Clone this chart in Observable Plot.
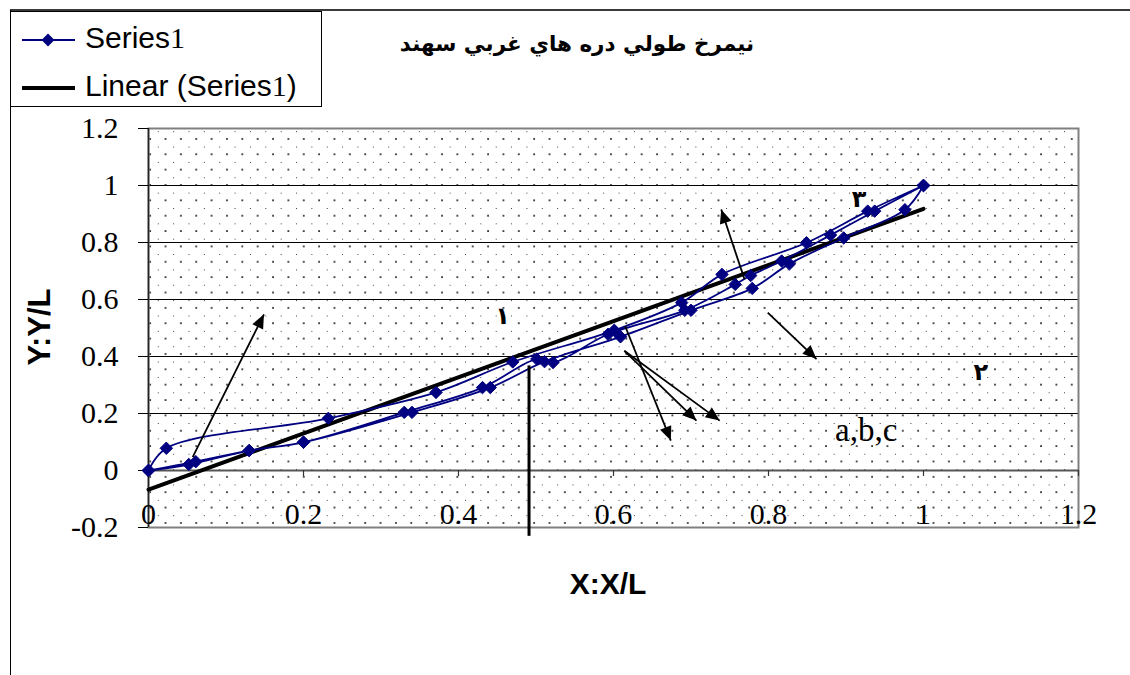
<!DOCTYPE html>
<html>
<head>
<meta charset="utf-8">
<script src="https://cdn.jsdelivr.net/npm/d3@7"></script>
<script src="https://cdn.jsdelivr.net/npm/@observablehq/plot@0.6"></script>
<style>
  html, body { margin: 0; padding: 0; background: #fff; width: 1130px; height: 675px; overflow: hidden; }
  #wrap { position: relative; width: 1130px; height: 675px; }
  #chart { position: absolute; left: 0; top: 0; }
  .btop { position: absolute; left: 10px; top: 9px; width: 1120px; height: 0; border-top: 2px solid #3a3a3a; }
  .bleft { position: absolute; left: 10px; top: 10px; width: 0; height: 665px; border-left: 1px solid #000; }
  #legend { position: absolute; left: 10px; top: 11px; }
  .title { position: absolute; left: 577px; top: 43px; transform: translate(-50%, -50%); white-space: nowrap;
           font-family: "DejaVu Sans", sans-serif; font-weight: bold; font-size: 21.5px; direction: rtl; color: #000; }
  .xlab { position: absolute; left: 608px; top: 584px; transform: translate(-50%, -50%); white-space: nowrap;
          font-family: "Liberation Sans", Arial, sans-serif; font-weight: bold; font-size: 30px; }
  .ylab { position: absolute; left: 40px; top: 327px; transform: translate(-50%, -50%) rotate(-90deg); white-space: nowrap;
          font-family: "Liberation Sans", Arial, sans-serif; font-weight: bold; font-size: 31px; }
</style>
</head>
<body>
<div id="wrap">
  <div id="chart"></div>
  <div class="btop"></div>
  <div class="bleft"></div>
  <svg id="legend" width="313" height="97" xmlns="http://www.w3.org/2000/svg">
    <rect x="0.5" y="0.5" width="311" height="95" fill="#fff" stroke="#000" stroke-width="1"/>
    <line x1="12" y1="29" x2="65" y2="29" stroke="#000080" stroke-width="1.8"/>
    <path d="M38,22.5 L44.5,29 L38,35.5 L31.5,29 Z" fill="#000080"/>
    <text x="75" y="37" font-family="Liberation Sans, Arial, sans-serif" font-size="30">Series<tspan font-family="Liberation Serif, Times New Roman, serif">1</tspan></text>
    <line x1="12" y1="77" x2="65" y2="77" stroke="#000" stroke-width="4"/>
    <text x="75" y="85" font-family="Liberation Sans, Arial, sans-serif" font-size="30">Linear (Series<tspan font-family="Liberation Serif, Times New Roman, serif">1</tspan>)</text>
  </svg>
  <div class="title">نيمرخ طولي دره هاي غربي سهند</div>
  <div class="xlab">X:X/L</div>
  <div class="ylab">Y:Y/L</div>
</div>
<script>
// ---- tick labels ----
const xTicks = [0, 0.2, 0.4, 0.6, 0.8, 1, 1.2];
const yTicks = [-0.2, 0, 0.2, 0.4, 0.6, 0.8, 1, 1.2];
const gridY = [0.2, 0.4, 0.6, 0.8, 1];

// ---- Series1: three longitudinal profiles (a, b, c) ----
const profileAX = [0, 0.023, 0.232, 0.371, 0.47, 0.601, 0.688, 0.74, 0.849, 0.928, 1];
const profileAY = [0, 0.078, 0.183, 0.274, 0.381, 0.492, 0.589, 0.688, 0.799, 0.91, 1];
const profileBX = [0, 0.052, 0.13, 0.2, 0.33, 0.431, 0.501, 0.522, 0.593, 0.692, 0.757, 0.777, 0.817, 0.88, 0.937, 1];
const profileBY = [0, 0.021, 0.07, 0.099, 0.204, 0.291, 0.391, 0.379, 0.478, 0.562, 0.653, 0.684, 0.735, 0.826, 0.91, 1];
const profileCX = [0, 0.061, 0.13, 0.2, 0.34, 0.441, 0.511, 0.609, 0.70, 0.779, 0.827, 0.897, 0.976, 1];
const profileCY = [0, 0.031, 0.07, 0.099, 0.204, 0.291, 0.382, 0.469, 0.562, 0.639, 0.725, 0.816, 0.915, 1];

// ---- Linear (Series1) trendline endpoints ----
const trendX = [0, 1];
const trendY = [-0.067, 0.918];

// ---- annotation arrows ----
const arrowX1 = [0.057, 0.769, 0.799, 0.615, 0.614, 0.614];
const arrowY1 = [0.047, 0.671, 0.554, 0.507, 0.42, 0.42];
const arrowX2 = [0.149, 0.739, 0.862, 0.674, 0.707, 0.737];
const arrowY2 = [0.548, 0.916, 0.391, 0.105, 0.175, 0.175];

// ---- vertical marker line ----
const vlineX = [0.491];
const vlineY1 = [0.367];
const vlineY2 = [-0.231];

// ---- annotation labels ----
const noteText = ["۱", "۳", "۲"];
const noteX = [0.457, 0.917, 1.074];
const noteY = [0.542, 0.952, 0.343];
const abcText = ["a,b,c"];
const abcX = [0.926];
const abcY = [0.14];

// build tables
const seriesX = [...profileAX, ...profileBX.slice().reverse(), ...profileCX];
const seriesY = [...profileAY, ...profileBY.slice().reverse(), ...profileCY];
const series = seriesX.map((x, i) => ({x, y: seriesY[i]}));
const trend = trendX.map((x, i) => ({x, y: trendY[i]}));
const arrows = arrowX1.map((x1, i) => ({x1, y1: arrowY1[i], x2: arrowX2[i], y2: arrowY2[i]}));
const vline = vlineX.map((x, i) => ({x, y1: vlineY1[i], y2: vlineY2[i]}));
const notes = noteText.map((t, i) => ({t, x: noteX[i], y: noteY[i]}));
const abc = abcText.map((t, i) => ({t, x: abcX[i], y: abcY[i]}));

const serif = "'Liberation Serif', 'Times New Roman', serif";

const svg = Plot.plot({
  width: 1130,
  height: 675,
  marginLeft: 148,
  marginRight: 52,
  marginTop: 128,
  marginBottom: 148,
  x: {domain: [0, 1.2], axis: null},
  y: {domain: [-0.2, 1.2]},
  style: {fontFamily: serif, fontSize: "30px", background: "transparent", overflow: "visible"},
  marks: [
    Plot.frame({fill: "url(#dots)", stroke: "none"}),
    Plot.ruleY(gridY, {stroke: "#000", strokeWidth: 1}),
    Plot.frame({stroke: "#808080", strokeWidth: 2}),
    Plot.ruleY([0], {stroke: "#555", strokeWidth: 2}),
    Plot.ruleX([0], {stroke: "#222", strokeWidth: 1.5}),
    Plot.axisY({ticks: yTicks, tickSize: 10, tickPadding: 20, tickFormat: d => String(d), label: null, fontSize: 30, fontFamily: serif}),
    Plot.ruleX(xTicks.slice(1), {x: d => d, y1: 0, y2: 0, insetBottom: -6, stroke: "#333", strokeWidth: 1.2}),
    Plot.text(xTicks, {x: d => d, y: -0.2, dy: -13, text: d => String(d), fontSize: 30, fontFamily: serif, ariaLabel: "xlabels"}),
    Plot.line(trend, {x: "x", y: "y", stroke: "#000", strokeWidth: 4}),
    Plot.line(series, {x: "x", y: "y", stroke: "#000080", strokeWidth: 1.8, curve: "catmull-rom"}),
    Plot.dot(series, {x: "x", y: "y", symbol: "diamond2", r: 5.6, fill: "#000080", stroke: "#000080", strokeWidth: 1}),
    Plot.ruleX(vline, {x: "x", y1: "y1", y2: "y2", stroke: "#000", strokeWidth: 3}),
    Plot.link(arrows, {x1: "x1", y1: "y1", x2: "x2", y2: "y2", stroke: "#000", strokeWidth: 1.8, markerEnd: "arrow"}),
    Plot.text(notes, {x: "x", y: "y", text: "t", fontFamily: "'DejaVu Sans', sans-serif", fontWeight: "bold", fontSize: 24}),
    Plot.text(abc, {x: "x", y: "y", text: "t", fontFamily: serif, fontSize: 33})
  ]
});

// dotted background pattern
const NS = "http://www.w3.org/2000/svg";
const defs = document.createElementNS(NS, "defs");
defs.innerHTML = '<pattern id="dots" patternUnits="userSpaceOnUse" x="157.3" y="130.7" width="15.36" height="15.36">' +
  '<rect x="-0.75" y="-0.75" width="1.6" height="1.6" fill="#000"/>' +
  '<rect x="6.93" y="6.93" width="1.6" height="1.6" fill="#000"/></pattern>';
svg.insertBefore(defs, svg.firstChild);

document.getElementById("chart").append(svg);

// filled arrow heads
svg.querySelectorAll("marker").forEach(m => {
  m.setAttribute("viewBox", "-15 -7 16 14");
  m.setAttribute("markerWidth", "16");
  m.setAttribute("markerHeight", "14");
  m.setAttribute("markerUnits", "userSpaceOnUse");
  m.setAttribute("fill", "#000");
  m.setAttribute("stroke", "none");
  m.innerHTML = '<path d="M0,0L-14,-6L-14,6Z"/>';
});

// white boxes behind x tick labels
const g = svg.querySelector('g[aria-label="xlabels"]');
if (g) {
  g.querySelectorAll("text").forEach(t => {
    const b = t.getBBox();
    const r = document.createElementNS(NS, "rect");
    r.setAttribute("x", b.x - 5);
    r.setAttribute("y", b.y + 3);
    r.setAttribute("width", b.width + 10);
    r.setAttribute("height", b.height - 4);
    r.setAttribute("fill", "#fff");
    const tr = t.getAttribute("transform");
    if (tr) r.setAttribute("transform", tr);
    t.parentNode.insertBefore(r, t);
  });
}
</script>
</body>
</html>
